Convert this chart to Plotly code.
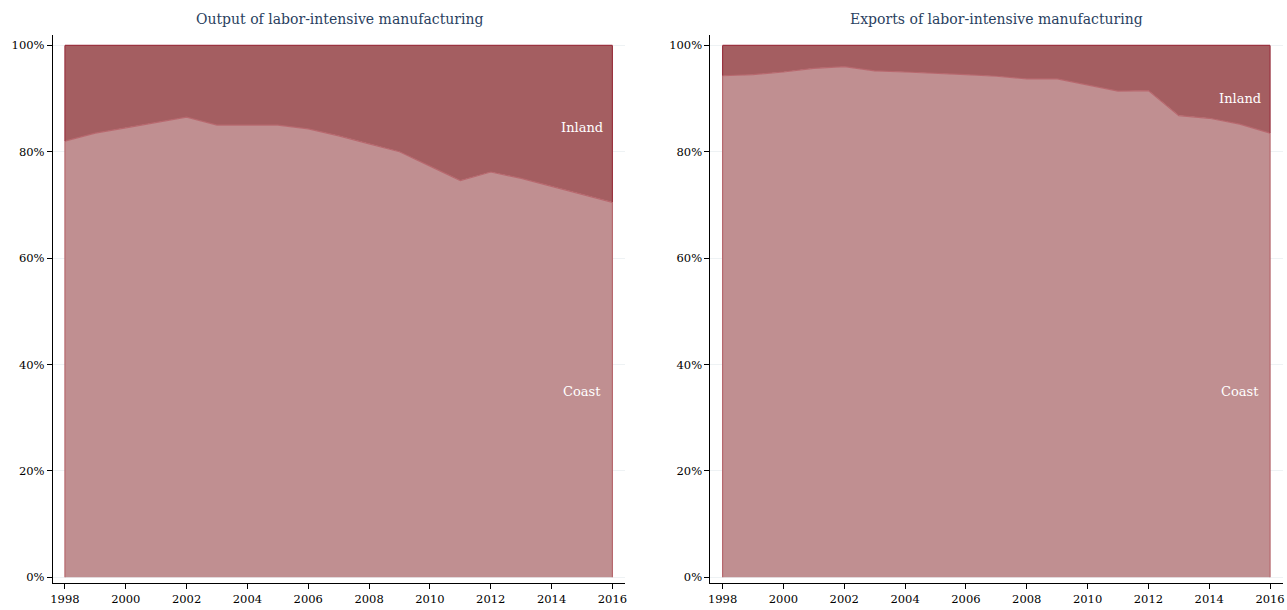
import plotly.graph_objects as go

years = list(range(1998, 2017))
output_coast = [82, 83.5, 84.5, 85.5, 86.5, 85, 85, 85, 84.3, 83, 81.5, 80, 77.3, 74.6, 76.2, 75, 73.5, 72, 70.5]
export_coast = [94.3, 94.5, 95, 95.7, 96, 95.2, 95, 94.8, 94.5, 94.2, 93.7, 93.7, 92.6, 91.4, 91.5, 86.8, 86.3, 85.2, 83.5]
titles = ["Output of labor-intensive manufacturing", "Exports of labor-intensive manufacturing"]
y_ticks = [0, 20, 40, 60, 80, 100]
y_labels = ["0%", "20%", "40%", "60%", "80%", "100%"]
x_ticks = list(range(1998, 2017, 2))

COAST_FILL = "#c08f91"
COAST_LINE = "#b7686e"
INLAND_FILL = "#a45e61"
INLAND_LINE = "#9a3340"
FONT = "DejaVu Serif"

fig = go.Figure()
doms = [(0.041, 0.486), (0.552, 0.997)]
for i, coast in enumerate([output_coast, export_coast]):
    xa = "x" if i == 0 else "x2"
    ya = "y" if i == 0 else "y2"
    inland = [100 - c for c in coast]
    fig.add_trace(go.Scatter(x=years, y=coast, stackgroup=f"s{i}", mode="lines",
                             line=dict(color=COAST_LINE, width=1.2), fillcolor=COAST_FILL,
                             xaxis=xa, yaxis=ya, showlegend=False))
    fig.add_trace(go.Scatter(x=years, y=inland, stackgroup=f"s{i}", mode="lines",
                             line=dict(color=INLAND_LINE, width=1.2), fillcolor=INLAND_FILL,
                             xaxis=xa, yaxis=ya, showlegend=False))
    for xv in (1998, 2016):
        idx = years.index(xv)
        fig.add_trace(go.Scatter(x=[xv, xv], y=[0, coast[idx]], mode="lines",
                                 line=dict(color=COAST_LINE, width=1.2), xaxis=xa, yaxis=ya,
                                 showlegend=False, hoverinfo="skip"))
        fig.add_trace(go.Scatter(x=[xv, xv], y=[coast[idx], 100], mode="lines",
                                 line=dict(color=INLAND_LINE, width=1.2), xaxis=xa, yaxis=ya,
                                 showlegend=False, hoverinfo="skip"))
    fig.add_annotation(x=2015.0, y=35, xref=xa, yref=ya, text="Coast", showarrow=False,
                       font=dict(color="white", size=13, family=FONT))
    fig.add_annotation(x=2015.0, y=(84.5 if i == 0 else 90), xref=xa, yref=ya, text="Inland",
                       showarrow=False, font=dict(color="white", size=13, family=FONT))
    fig.add_annotation(x=sum(doms[i]) / 2, y=1.0, xref="paper", yref="paper", yanchor="top",
                       xanchor="center", text=titles[i], showarrow=False,
                       font=dict(color="#2a3f5f", size=14, family=FONT), yshift=-9)

axis_common = dict(showline=True, linecolor="black", linewidth=1, ticks="outside", ticklen=5,
                   tickcolor="black", automargin=False, tickfont=dict(family=FONT, size=11.5, color="black"))
for i in range(2):
    sfx = "" if i == 0 else "2"
    fig.update_layout(**{
        f"xaxis{sfx}": dict(domain=doms[i], range=[1997.6, 2016.43], tickmode="array",
                            tickvals=x_ticks, ticktext=[str(v) for v in x_ticks],
                            showgrid=False, zeroline=False, anchor="y" + sfx, **axis_common),
        f"yaxis{sfx}": dict(domain=[0.044, 0.943], range=[-1.1, 102], tickmode="array",
                            tickvals=y_ticks, ticktext=y_labels,
                            showgrid=True, gridcolor="#eef2f4", zeroline=False,
                            anchor="x" + sfx, **axis_common),
    })

fig.update_layout(width=1287, height=610, margin=dict(l=0, r=0, t=0, b=0),
                  plot_bgcolor="white", paper_bgcolor="white")
fig.write_html("out.html", config={"displayModeBar": False})

with open("out.html", encoding="utf-8") as f:
    html = f.read()
html = html.replace("<head>", "<head><style>html,body{margin:0;padding:0;overflow:hidden;}</style>", 1)
with open("out.html", "w", encoding="utf-8") as f:
    f.write(html)
